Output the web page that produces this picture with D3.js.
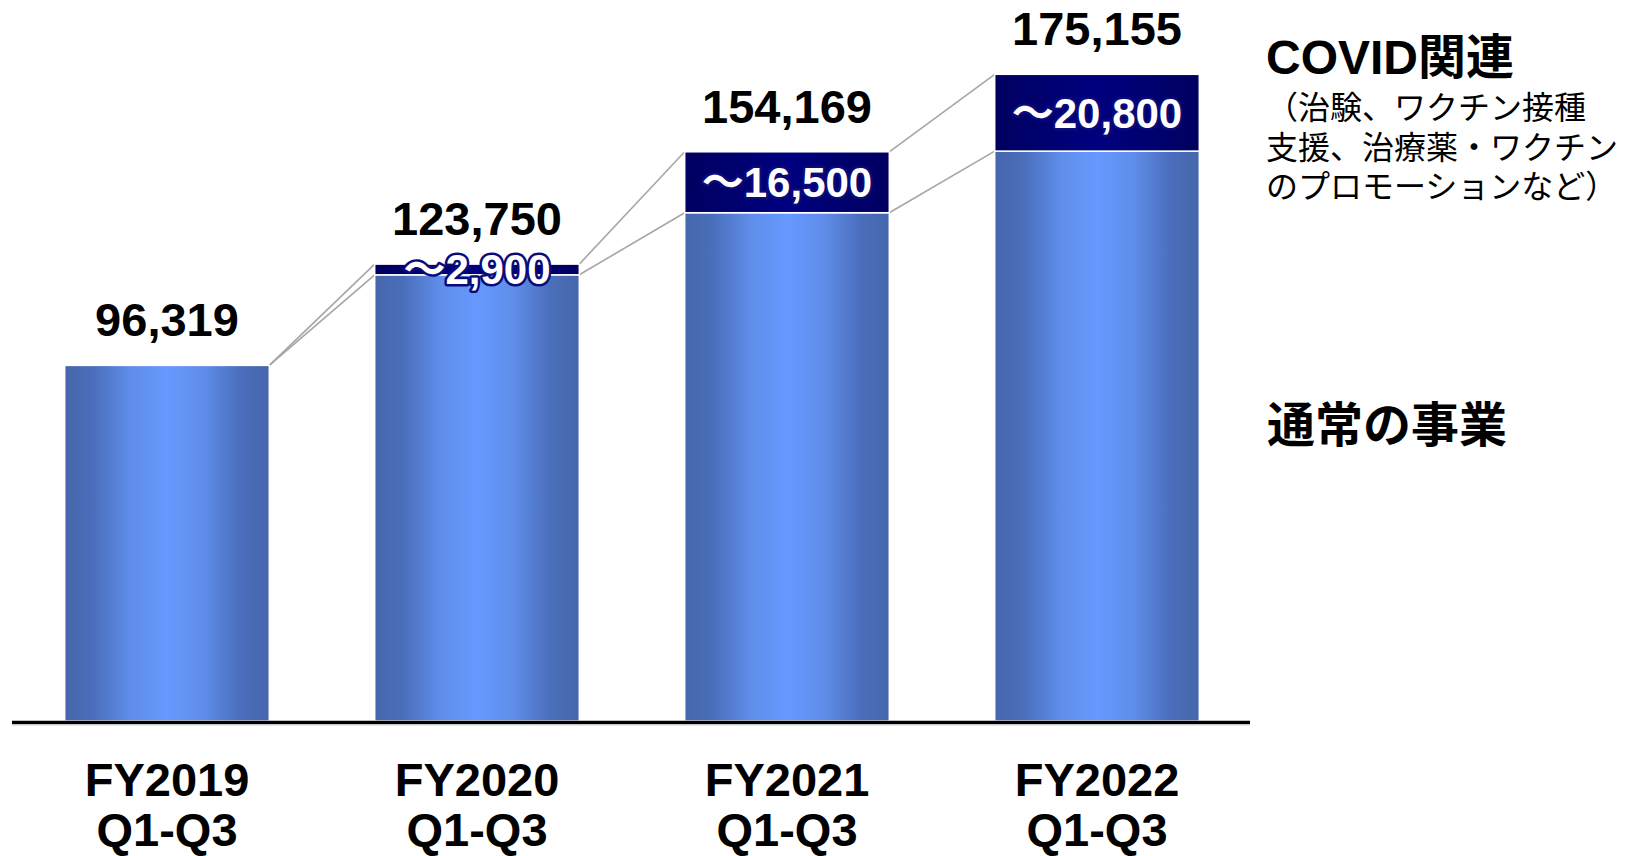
<!DOCTYPE html>
<html>
<head>
<meta charset="utf-8">
<script src="https://cdn.jsdelivr.net/npm/d3@7"></script>
<style>
  html, body { margin: 0; padding: 0; background: #fff; }
  svg { display: block; }
</style>
</head>
<body>
<svg id="chart"></svg>
<script>
// data
const categories = ["FY2019", "FY2020", "FY2021", "FY2022"];
const periodLabel = "Q1-Q3";
const totals = [96319, 123750, 154169, 175155];
const covid = [0, 2900, 16500, 20800];
const covidLabels = ["", "～2,900", "～16,500", "～20,800"];
const legendTitle = "COVID関連";
const legendNote = ["（治験、ワクチン接種", "支援、治療薬・ワクチン", "のプロモーションなど）"];
const legendBase = "通常の事業";

const width = 1638, height = 856;
const latin = "'Liberation Sans', Arial, 'Noto Sans CJK JP', sans-serif";
const cjk = "'Noto Sans CJK JP', 'Liberation Sans', sans-serif";

const svg = d3.select("#chart").attr("width", width).attr("height", height);
const defs = svg.append("defs");

// horizontal "cylinder" gradients
const blue = defs.append("linearGradient").attr("id", "gBlue")
  .attr("x1", "0%").attr("x2", "100%").attr("y1", "0%").attr("y2", "0%");
[[0, "#4667ac"], [0.14, "#4a6ebb"], [0.32, "#5f8de9"], [0.5, "#6699ff"],
 [0.68, "#5f8de9"], [0.86, "#4a6ebb"], [1, "#4667ac"]]
  .forEach(([o, c]) => blue.append("stop").attr("offset", o).attr("stop-color", c));

const navy = defs.append("linearGradient").attr("id", "gNavy")
  .attr("x1", "0%").attr("x2", "100%").attr("y1", "0%").attr("y2", "0%");
[[0, "#000060"], [0.5, "#000080"], [1, "#000060"]]
  .forEach(([o, c]) => navy.append("stop").attr("offset", o).attr("stop-color", c));

// scales
const x = d3.scaleBand().domain(categories).range([12, 1252])
  .paddingInner(0.34).paddingOuter(0.17);
const y = d3.scaleLinear().domain([0, 190000]).range([721, 19.5]);

const rows = categories.map((c, i) => ({
  cat: c, total: totals[i], covid: covid[i], normal: totals[i] - covid[i], label: covidLabels[i]
}));

// connector lines between consecutive bars
const conn = svg.append("g").attr("stroke", "#a6a6a6").attr("stroke-width", 1.6).attr("fill", "none");
rows.slice(1).forEach((d, i) => {
  const p = rows[i];
  const x0 = x(p.cat) + x.bandwidth(), x1 = x(d.cat);
  conn.append("line").attr("x1", x0).attr("y1", y(p.total)).attr("x2", x1).attr("y2", y(d.total));
  conn.append("line").attr("x1", x0).attr("y1", y(p.normal)).attr("x2", x1).attr("y2", y(d.normal));
});

// normal business part
svg.append("g").selectAll("rect").data(rows).join("rect")
  .attr("x", d => x(d.cat))
  .attr("y", d => y(d.normal))
  .attr("width", x.bandwidth())
  .attr("height", d => y(0) - y(d.normal))
  .attr("fill", "url(#gBlue)")
  .attr("stroke", "#fff").attr("stroke-width", 1.5);

// covid part
svg.append("g").selectAll("rect").data(rows.filter(d => d.covid > 0)).join("rect")
  .attr("x", d => x(d.cat))
  .attr("y", d => y(d.total))
  .attr("width", x.bandwidth())
  .attr("height", d => y(d.normal) - y(d.total))
  .attr("fill", "url(#gNavy)")
  .attr("stroke", "#fff").attr("stroke-width", 1.5);

// baseline
svg.append("line").attr("x1", 12).attr("x2", 1250).attr("y1", y(0) + 1.5).attr("y2", y(0) + 1.5)
  .attr("stroke", "#000").attr("stroke-width", 3.5);
svg.append("line").attr("x1", 12).attr("x2", 1250).attr("y1", y(0) + 4).attr("y2", y(0) + 4)
  .attr("stroke", "#d0d0d0").attr("stroke-width", 1);

// total labels
svg.append("g").selectAll("text").data(rows).join("text")
  .attr("x", d => x(d.cat) + x.bandwidth() / 2)
  .attr("y", d => y(d.total) - 29)
  .attr("text-anchor", "middle")
  .style("font-family", latin).style("font-weight", "bold").style("font-size", "47px")
  .attr("fill", "#000")
  .text(d => d3.format(",")(d.total));

// covid labels
svg.append("g").selectAll("text").data(rows.filter(d => d.covid > 0)).join("text")
  .attr("x", d => x(d.cat) + x.bandwidth() / 2)
  .attr("y", d => (y(d.total) + y(d.normal)) / 2 + 15)
  .attr("text-anchor", "middle")
  .style("font-family", latin).style("font-weight", "bold").style("font-size", "42px")
  .attr("fill", "#fff")
  .attr("stroke", "#0a0a78").attr("stroke-width", 5).attr("stroke-linejoin", "round")
  .attr("paint-order", "stroke")
  .text(d => d.label);

// category labels
const xl = svg.append("g");
categories.forEach(c => {
  const cx = x(c) + x.bandwidth() / 2;
  xl.append("text").attr("x", cx).attr("y", 796).attr("text-anchor", "middle")
    .style("font-family", latin).style("font-weight", "bold").style("font-size", "47px")
    .text(c);
  xl.append("text").attr("x", cx).attr("y", 846).attr("text-anchor", "middle")
    .style("font-family", latin).style("font-weight", "bold").style("font-size", "47px")
    .text(periodLabel);
});

// legend text on the right
const lg = svg.append("g").attr("transform", "translate(1266,0)");
lg.append("text").attr("y", 74)
  .style("font-family", latin).style("font-weight", "bold").style("font-size", "48px")
  .text(legendTitle);
legendNote.forEach((t, i) => {
  lg.append("text").attr("y", 119 + i * 39.5)
    .style("font-family", cjk).style("font-size", "32px")
    .text(t);
});
lg.append("text").attr("x", 1).attr("y", 442)
  .style("font-family", cjk).style("font-weight", "bold").style("font-size", "48px")
  .text(legendBase);
</script>
</body>
</html>
